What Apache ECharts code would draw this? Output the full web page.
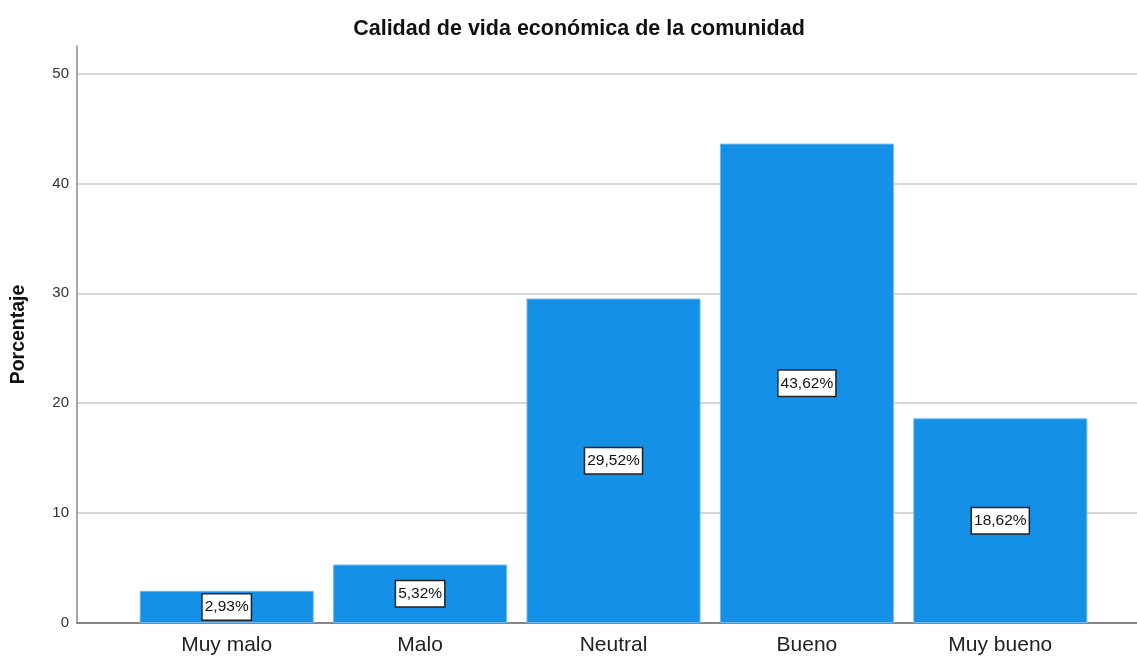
<!DOCTYPE html>
<html><head><meta charset="utf-8">
<script src="https://cdn.jsdelivr.net/npm/echarts@6/dist/echarts.min.js"></script>
<style>html,body{margin:0;padding:0;background:#fff}#c{width:1137px;height:657px}</style>
</head><body><div id="c"></div>
<script>
const categories = ['Muy malo', 'Malo', 'Neutral', 'Bueno', 'Muy bueno'];
const values = [2.93, 5.32, 29.52, 43.62, 18.62];
const yTicks = [0, 10, 20, 30, 40, 50];
const titleText = 'Calidad de vida económica de la comunidad';
const yName = 'Porcentaje';

const font = '"Liberation Sans", Arial, sans-serif';
const chart = echarts.init(document.getElementById('c'));
const yMax = 52.5;
chart.setOption({
  animation: false,
  title: { text: titleText, left: 574, top: 13, textAlign: 'center',
    textStyle: { fontFamily: font, fontSize: 21.5, fontWeight: 'bold', color: '#111' } },
  grid: [
    { left: 77, right: 0, top: 46, bottom: 34 },
    { left: 130, right: 40, top: 46, bottom: 34 }
  ],
  xAxis: [
    { gridIndex: 0, type: 'value', min: 0, max: 1, show: true,
      axisLine: { show: true, onZero: false, lineStyle: { color: '#6e6e6e', width: 1.5 } },
      axisTick: { show: false }, axisLabel: { show: false }, splitLine: { show: false } },
    { gridIndex: 1, type: 'category', data: categories,
      axisLine: { show: false }, axisTick: { show: false },
      axisLabel: { fontFamily: font, fontSize: 21, color: '#222', margin: 12 } }
  ],
  yAxis: [
    { gridIndex: 0, type: 'value', min: 0, max: yMax, interval: 10,
      name: yName, nameLocation: 'middle', nameGap: 48,
      nameTextStyle: { fontFamily: font, fontSize: 19.5, fontWeight: 'bold', color: '#111' },
      axisLine: { show: true, lineStyle: { color: '#8a8a8a', width: 1.5 } },
      axisTick: { show: false },
      axisLabel: { fontFamily: font, fontSize: 15, color: '#333', margin: 8,
        formatter: v => (yTicks.indexOf(v) >= 0 ? String(v) : '') },
      splitLine: { show: true, showMaxLine: false, lineStyle: { color: '#c8c8c8', width: 1.5 } } },
    { gridIndex: 1, type: 'value', min: 0, max: yMax, show: false, splitLine: { show: false } }
  ],
  series: [{
    type: 'bar', xAxisIndex: 1, yAxisIndex: 1, data: values, barWidth: '90%',
    itemStyle: { color: '#1490e6', borderColor: '#6fbaf0', borderWidth: 1 },
    label: { show: true, position: 'inside',
      formatter: p => p.value.toFixed(2).replace('.', ',') + '%',
      fontFamily: font, fontSize: 15.5, color: '#111',
      backgroundColor: '#fff', borderColor: '#222', borderWidth: 1.5, padding: [5, 2, 4, 2] }
  }]
});
</script></body></html>
